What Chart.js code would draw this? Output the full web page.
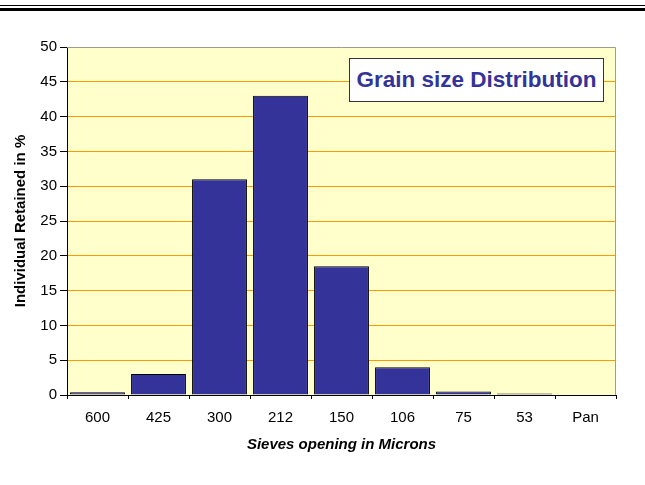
<!DOCTYPE html>
<html>
<head>
<meta charset="utf-8">
<script src="https://cdn.jsdelivr.net/npm/chart.js@4/dist/chart.umd.min.js"></script>
<style>
  body { margin: 0; background: #fff; }
  .wrap { position: relative; width: 645px; height: 485px; }
  .rule-thin { position: absolute; left: 0; top: 5px; width: 645px; height: 1px; background: #000; }
  .rule-thick { position: absolute; left: 0; top: 8px; width: 645px; height: 3px; background: #000; }
  .title-box {
    position: absolute; left: 349px; top: 58px; width: 253px; height: 42px;
    border: 1px solid #333; background: #fff;
    font: bold 22.5px "Liberation Sans", Arial, sans-serif; color: #333399;
    display: flex; align-items: center; justify-content: center;
  }
</style>
</head>
<body>
<div class="wrap">
  <canvas id="chartSieve"></canvas>
  <div class="rule-thin"></div>
  <div class="rule-thick"></div>
  <div class="title-box">Grain size Distribution</div>
</div>
<script>
const sieveLabels = ["600", "425", "300", "212", "150", "106", "75", "53", "Pan"];
const retainedPct = [0.4, 3, 31, 43, 18.5, 4, 0.5, 0.2, 0];
const yTicks = [0, 5, 10, 15, 20, 25, 30, 35, 40, 45, 50];

// yellow plot background + grey top/right frame
const plotFrame = {
  id: "plotFrame",
  beforeDraw(chart) {
    const { ctx, chartArea: a } = chart;
    ctx.save();
    ctx.fillStyle = "#FFFFCC";
    ctx.fillRect(a.left, a.top, a.right - a.left, a.bottom - a.top);
    ctx.restore();
  },
  afterDraw(chart) {
    const { ctx, chartArea: a } = chart;
    ctx.save();
    ctx.strokeStyle = "#A09C8C";
    ctx.lineWidth = 1;
    ctx.beginPath();
    ctx.moveTo(a.left, a.top + 0.5);
    ctx.lineTo(a.right - 0.5, a.top + 0.5);
    ctx.lineTo(a.right - 0.5, a.bottom);
    ctx.stroke();
    ctx.restore();
  }
};

const font = "'Liberation Sans', Arial, sans-serif";

new Chart(document.getElementById("chartSieve"), {
  type: "bar",
  data: {
    labels: sieveLabels,
    datasets: [{
      data: retainedPct,
      backgroundColor: "#333399",
      borderColor: "#000",
      borderWidth: 1,
      barPercentage: 0.9,
      categoryPercentage: 1
    }]
  },
  options: {
    responsive: true,
    maintainAspectRatio: false,
    animation: false,
    layout: { padding: { top: 47, right: 29, left: 0, bottom: 0 } },
    plugins: {
      legend: { display: false },
      tooltip: { enabled: false }
    },
    scales: {
      x: {
        afterFit(scale) { scale.height = 90; },
        grid: {
          offset: true,
          drawOnChartArea: false,
          tickLength: 4,
          tickColor: "#000"
        },
        border: { color: "#000", width: 1 },
        ticks: { color: "#000", font: { family: font, size: 15 }, padding: 10, maxRotation: 0 },
        title: {
          display: true,
          text: "Sieves opening in Microns",
          color: "#000",
          font: { family: font, size: 15, weight: "bold", style: "italic" },
          padding: { top: 8, bottom: 31 }
        }
      },
      y: {
        min: 0,
        max: 50,
        afterFit(scale) { scale.width = 67; },
        afterBuildTicks(scale) { scale.ticks = yTicks.map(v => ({ value: v })); },
        grid: {
          color: ctx => (ctx.tick && (ctx.tick.value === 0 || ctx.tick.value === 50)) ? "rgba(0,0,0,0)" : "#FF9900",
          tickColor: "#000",
          tickLength: 7,
          lineWidth: 1
        },
        border: { color: "#000", width: 1 },
        ticks: { color: "#000", font: { family: font, size: 15 }, padding: 3 },
        title: {
          display: true,
          text: "Individual Retained in %",
          color: "#000",
          font: { family: font, size: 15, weight: "bold" },
          padding: { top: 12, bottom: 4 }
        }
      }
    }
  },
  plugins: [plotFrame]
});
</script>
</body>
</html>
